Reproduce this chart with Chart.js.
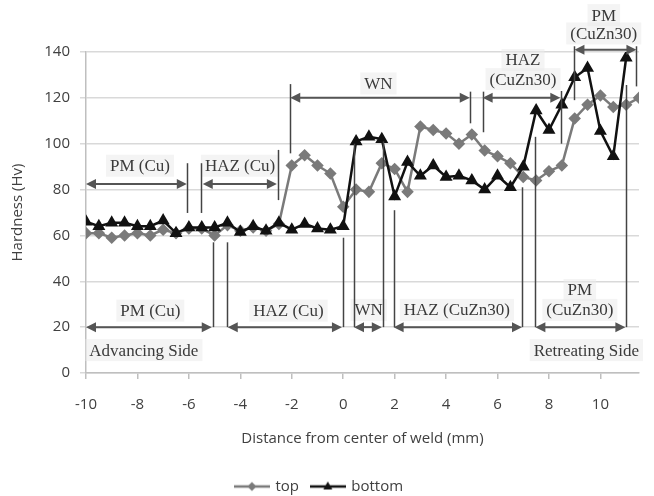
<!DOCTYPE html>
<html>
<head>
<meta charset="utf-8">
<script src="https://cdn.jsdelivr.net/npm/chart.js@4.4.0/dist/chart.umd.min.js"></script>
<style>
  html, body { margin: 0; padding: 0; background: #fff; }
</style>
</head>
<body>
<canvas id="hardnessChart" width="654" height="496"></canvas>
<script>
// measurement positions (mm from weld centre)
const positions = [-10, -9.5, -9, -8.5, -8, -7.5, -7, -6.5, -6, -5.5, -5, -4.5, -4, -3.5, -3, -2.5,
  -2, -1.5, -1, -0.5, 0, 0.5, 1, 1.5, 2, 2.5, 3, 3.5, 4, 4.5, 5, 5.5, 6, 6.5, 7, 7.5,
  8, 8.5, 9, 9.5, 10, 10.5, 11, 11.5];

const topHardness = [61, 61, 59, 60, 61, 60, 62.5, 61, 63, 63, 60, 64.5, 62, 63.5, 62, 65,
  90.5, 95, 90.5, 87, 72.5, 80, 79, 91.5, 89, 79, 107.5, 106, 104.5, 100, 104, 97, 94.5, 91.5, 85.5, 84,
  88, 90.5, 111, 117, 121, 116, 117, 120];

const bottomHardness = [66, 64, 65.5, 65.5, 64, 64, 66.5, 61, 63.5, 63.5, 63.5, 65.5, 61.5, 64, 62, 65.5,
  62.5, 65, 63, 62.5, 64, 101, 103, 102, 77, 92, 86, 90.5, 85.5, 86, 84, 80, 86, 81, 90, 114.5,
  106, 117, 129, 133, 105.5, 94.5, 137.5];

const xTickValues = [-10, -8, -6, -4, -2, 0, 2, 4, 6, 8, 10];

// zone annotations in data units: [from x, to x, y]
const zoneArrows = [
  [-10, -6.08, 82.4], [-5.46, -2.58, 82.4], [-2.06, 4.92, 120], [5.42, 8.44, 120], [8.99, 11.4, 141],
  [-10, -5.11, 20], [-4.49, -0.05, 20], [0.42, 1.5, 20], [1.96, 6.95, 20], [7.47, 10.97, 20]
];
// boundary lines: [x, y from, y to]
const zoneBounds = [
  [-6.06, 69.8, 91.5], [-5.51, 69.8, 91.5], [-2.52, 75.4, 97.3], [-2.06, 95.8, 126],
  [4.94, 108.9, 122.7], [5.43, 105, 122.7], [8.47, 100, 123], [8.96, 119, 142.5], [11.4, 125, 142.5],
  [-5.05, 20, 57], [-4.53, 20, 57], [0, 20, 59], [0.42, 20, 100], [1.53, 20, 101],
  [1.96, 20, 71], [6.95, 20, 81], [7.47, 20, 103], [11.0, 20, 125.6]
];
// labels: [text, x, y, align]
const zoneLabels = [
  ['PM (Cu)', -7.9, 90.4, 'center'], ['HAZ (Cu)', -4.01, 90.4, 'center'], ['WN', 1.37, 126.3, 'center'],
  ['HAZ', 6.99, 136.5, 'center'], ['(CuZn30)', 6.99, 128.2, 'center'],
  ['PM', 10.13, 156.1, 'center'], ['(CuZn30)', 10.13, 148.1, 'center'],
  ['PM (Cu)', -7.5, 27.2, 'center'], ['HAZ (Cu)', -2.13, 27.2, 'center'], ['WN', 0.99, 27.5, 'center'],
  ['HAZ (CuZn30)', 4.42, 27.5, 'center'], ['PM', 9.2, 36.2, 'center'], ['(CuZn30)', 9.2, 27.5, 'center'],
  ['Advancing Side', -9.87, 10, 'left'], ['Retreating Side', 11.5, 10, 'right']
];

const axisFont = { family: '"Open Sans", sans-serif', size: 15 };
const axisColor = '#404040';

function legendIcon(color, style) {
  const c = document.createElement('canvas');
  c.width = 36; c.height = 14;
  const g = c.getContext('2d');
  g.strokeStyle = color; g.fillStyle = color; g.lineWidth = 2.5;
  g.beginPath(); g.moveTo(0, 7); g.lineTo(36, 7); g.stroke();
  g.beginPath();
  if (style === 'diamond') {
    g.moveTo(18, 2.5); g.lineTo(22.5, 7); g.lineTo(18, 11.5); g.lineTo(13.5, 7);
  } else {
    g.moveTo(18, 2); g.lineTo(22.5, 10); g.lineTo(13.5, 10);
  }
  g.closePath(); g.fill();
  return c;
}
const legendIcons = [legendIcon('#7a7a7a', 'diamond'), legendIcon('#111', 'triangle')];

const zonePlugin = {
  id: 'zones',
  afterDatasetsDraw(chart) {
    const { ctx, scales: { x, y } } = chart;
    ctx.save();
    ctx.font = '17px "Liberation Serif", serif';
    ctx.textBaseline = 'middle';
    zoneLabels.forEach(([text, vx, vy, align]) => {
      const w = ctx.measureText(text).width;
      const px = x.getPixelForValue(vx), py = y.getPixelForValue(vy);
      let left = align === 'left' ? px : align === 'right' ? px - w : px - w / 2;
      ctx.fillStyle = 'rgba(235,235,235,0.55)';
      ctx.fillRect(left - 4, py - 11, w + 8, 22);
      ctx.fillStyle = '#3a3a3a';
      ctx.textAlign = 'left';
      ctx.fillText(text, left, py + 1);
    });
    ctx.strokeStyle = '#444';
    ctx.lineWidth = 1.5;
    zoneBounds.forEach(([vx, y1, y2]) => {
      const px = Math.round(x.getPixelForValue(vx)) + 0.5;
      ctx.beginPath();
      ctx.moveTo(px, y.getPixelForValue(y1));
      ctx.lineTo(px, y.getPixelForValue(y2));
      ctx.stroke();
    });
    ctx.strokeStyle = '#555';
    ctx.fillStyle = '#555';
    ctx.lineWidth = 2;
    zoneArrows.forEach(([x1, x2, vy]) => {
      const a = x.getPixelForValue(x1), b = x.getPixelForValue(x2), py = y.getPixelForValue(vy);
      ctx.beginPath(); ctx.moveTo(a + 6, py); ctx.lineTo(b - 6, py); ctx.stroke();
      ctx.beginPath(); ctx.moveTo(a, py); ctx.lineTo(a + 10, py - 5); ctx.lineTo(a + 10, py + 5); ctx.closePath(); ctx.fill();
      ctx.beginPath(); ctx.moveTo(b, py); ctx.lineTo(b - 10, py - 5); ctx.lineTo(b - 10, py + 5); ctx.closePath(); ctx.fill();
    });
    ctx.restore();
  }
};

new Chart(document.getElementById('hardnessChart'), {
  type: 'line',
  data: {
    datasets: [
      {
        label: 'top',
        data: topHardness.map((v, i) => ({ x: positions[i], y: v })),
        borderColor: '#7a7a7a', backgroundColor: '#7a7a7a', borderWidth: 2.5,
        pointStyle: 'rectRot', pointRadius: 4.5, order: 2
      },
      {
        label: 'bottom',
        data: bottomHardness.map((v, i) => ({ x: positions[i], y: v })),
        borderColor: '#111', backgroundColor: '#111', borderWidth: 2.5,
        pointStyle: 'triangle', pointRadius: 5, order: 1
      }
    ]
  },
  options: {
    responsive: false,
    animation: false,
    layout: { padding: { top: 52, right: 15, left: 0, bottom: -8 } },
    plugins: {
      tooltip: { enabled: false },
      legend: {
        position: 'bottom',
        labels: {
          usePointStyle: true, pointStyleWidth: 32, padding: 5, font: axisFont, color: axisColor,
          generateLabels: chart => chart.data.datasets.map((ds, i) => ({
            text: i === 0 ? ds.label + '  ' : ds.label, pointStyle: legendIcons[i], datasetIndex: i,
            fontColor: axisColor, lineWidth: 0, strokeStyle: 'transparent', fillStyle: 'transparent', hidden: false
          }))
        }
      }
    },
    scales: {
      x: {
        type: 'linear', min: -10, max: 11.5,
        afterBuildTicks: s => { s.ticks = xTickValues.map(v => ({ value: v })); },
        afterFit: s => { s.height = s.chart.height + 8 - s.chart.legend.height - 373; },
        grid: { drawOnChartArea: false, drawTicks: true, tickLength: 6, color: '#bfbfbf', lineWidth: 1.5 },
        border: { color: '#bfbfbf', width: 1.5 },
        ticks: { font: axisFont, color: axisColor, padding: 17, maxRotation: 0, autoSkip: false },
        title: { display: true, text: 'Distance from center of weld (mm)', font: axisFont, color: axisColor, padding: { top: 0, bottom: 26 } }
      },
      y: {
        min: 0, max: 140,
        afterFit: s => { s.width = 86; },
        ticks: { stepSize: 20, padding: 10, font: axisFont, color: axisColor },
        grid: { color: '#d9d9d9', lineWidth: 1.5, tickLength: 6 },
        border: { color: '#bfbfbf', width: 1.5 },
        title: { display: true, text: 'Hardness (Hv)', font: axisFont, color: axisColor, padding: { top: 9, bottom: 0 } }
      }
    }
  },
  plugins: [zonePlugin]
});
</script>
</body>
</html>
